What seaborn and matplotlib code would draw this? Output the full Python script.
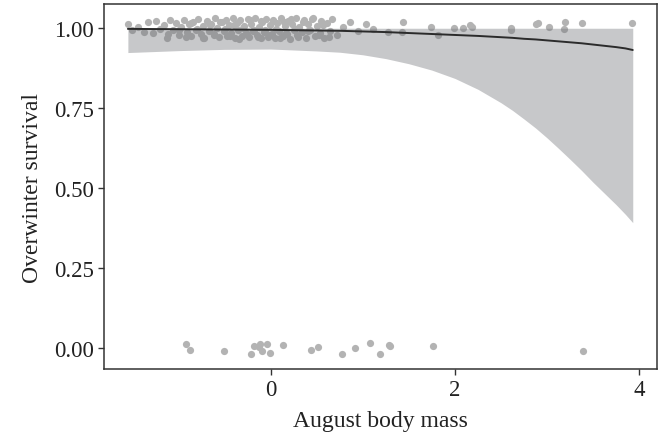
import numpy as np
import pandas as pd
import seaborn as sns
import matplotlib.pyplot as plt

# survivors (jittered around 1)
surv_x = [-1.55, -1.50, -1.44, -1.38, -1.33, -1.28, -1.24, -1.20, -1.16, -1.12, -1.09, -1.06,
          -1.03, -1.00, -0.97, -0.94, -0.91, -0.89, -0.86, -0.84, -0.81, -0.79, -0.76, -0.74,
          -0.72, -0.69, -0.67, -0.65, -0.62, -0.60, -0.58, -0.56, -0.53, -0.51, -0.49, -0.47,
          -0.45, -0.43, -0.41, -0.39, -0.37, -0.35, -0.33, -0.31, -0.29, -0.27, -0.25, -0.23,
          -0.21, -0.19, -0.17, -0.15, -0.13, -0.11, -0.09, -0.07, -0.05, -0.03, -0.01, 0.01,
          0.03, 0.05, 0.07, 0.09, 0.11, 0.13, 0.15, 0.17, 0.19, 0.21, 0.23, 0.25,
          0.27, 0.29, 0.31, 0.34, 0.36, 0.38, 0.41, 0.43, 0.45, 0.48, 0.50, 0.53,
          0.55, 0.58, 0.61, 0.64, 0.67, 0.72, 0.78, 0.86, 0.95, 1.03,
          -1.13, -1.00, -0.92, -0.87, -0.80, -0.73, -0.66, -0.61, -0.55, -0.50, -0.44, -0.40,
          -0.34, -0.30, -0.26, -0.22, -0.18, -0.14, -0.10, -0.06, -0.02, 0.02, 0.06, 0.10,
          0.14, 0.18, 0.22, 0.26, 0.30, 0.35, 0.40, 0.46, 0.52, 0.57, 0.63,
          1.11, 1.27, 1.44, 1.43, 1.74, 1.82, 1.99, 2.09, 2.16, 2.19, 2.61, 2.61,
          2.88, 2.90, 3.02, 3.18, 3.20, 3.38, 3.92]
surv_y = [1.012, 0.995, 1.003, 0.988, 1.018, 0.985, 1.022, 0.998, 1.010, 0.982, 1.025, 0.993,
          1.015, 0.978, 1.004, 1.027, 0.988, 1.012, 0.975, 1.020, 0.996, 1.030, 0.983, 1.008,
          0.971, 1.024, 0.992, 1.014, 0.980, 1.031, 1.001, 0.973, 1.018, 0.990, 1.027, 0.977,
          1.009, 0.986, 1.033, 0.969, 1.016, 0.995, 1.026, 0.975, 1.006, 0.984, 1.029, 0.972,
          1.013, 0.992, 1.032, 0.979, 1.004, 0.968, 1.021, 0.988, 1.030, 0.974, 1.011, 0.983,
          1.027, 0.970, 1.017, 0.991, 1.033, 0.976, 1.008, 0.985, 1.024, 0.967, 1.014, 0.994,
          1.031, 0.978, 1.003, 0.987, 1.025, 0.971, 1.012, 0.993, 1.029, 0.976, 1.007, 0.984,
          1.022, 0.970, 1.015, 0.990, 1.028, 0.979, 1.005, 1.020, 0.990, 1.013,
          0.970, 0.995, 0.972, 1.017, 0.999, 0.968, 1.011, 0.981, 1.021, 0.997, 0.976, 1.010,
          0.966, 1.002, 0.981, 1.027, 0.994, 0.972, 1.024, 0.996, 0.978, 1.022, 0.999, 0.969,
          1.019, 0.982, 1.028, 0.997, 0.974, 1.018, 0.990, 1.031, 0.978, 1.010, 0.973,
          0.997, 0.988, 1.018, 0.988, 1.005, 0.980, 1.002, 1.002, 1.009, 1.004, 1.001, 0.993,
          1.012, 1.015, 1.004, 0.997, 1.021, 1.017, 1.015]

# non-survivors (jittered around 0)
dead_x = [-0.92, -0.88, -0.51, -0.21, -0.18, -0.12, -0.13, -0.09, -0.04, -0.01, 0.13,
          0.44, 0.51, 0.77, 0.92, 1.08, 1.19, 1.28, 1.30, 1.76, 3.39]
dead_y = [0.012, -0.005, -0.008, -0.019, 0.005, 0.013, 0.002, -0.010, 0.013, -0.015, 0.009,
          -0.005, 0.002, -0.020, 0.001, 0.017, -0.020, 0.010, 0.005, 0.005, -0.008]

# fitted logistic curve and confidence band
fit_x = [-1.55, -1.0, -0.5, 0.0, 0.5, 0.75, 1.0, 1.25, 1.5, 1.75, 2.0, 2.25, 2.5, 2.625,
         2.75, 2.875, 3.0, 3.125, 3.25, 3.375, 3.5, 3.625, 3.75, 3.85, 3.93]
fit_y = [0.998, 0.997, 0.996, 0.995, 0.993, 0.992, 0.990, 0.988, 0.985, 0.982, 0.979,
         0.976, 0.972, 0.970, 0.967, 0.965, 0.962, 0.959, 0.956, 0.953, 0.949, 0.945,
         0.941, 0.937, 0.932]
fit_lo = [0.924, 0.930, 0.934, 0.935, 0.929, 0.925, 0.917, 0.905, 0.889, 0.869, 0.843,
          0.809, 0.767, 0.743, 0.716, 0.688, 0.657, 0.624, 0.590, 0.555, 0.518, 0.483,
          0.448, 0.418, 0.392]
fit_hi = [1.0] * len(fit_x)

points = pd.DataFrame({"mass": surv_x + dead_x, "survival": surv_y + dead_y})
fit = pd.DataFrame({"mass": fit_x, "survival": fit_y, "lo": fit_lo, "hi": fit_hi})

sns.set_style("white")
plt.rcParams["font.family"] = ["Liberation Serif", "DejaVu Serif"]

fig = plt.figure(figsize=(6.62, 4.39), dpi=100)
ax = fig.add_axes([0.157, 0.157, 0.835, 0.831])

sns.scatterplot(data=points, x="mass", y="survival", color="#b3b3b3", s=27,
                linewidth=0, ax=ax, zorder=1)
ax.fill_between(fit["mass"], fit["lo"], fit["hi"], color="#74767b", alpha=0.4,
                linewidth=0, zorder=2)
sns.lineplot(data=fit, x="mass", y="survival", color="#2b2b2b", linewidth=1.4,
             ax=ax, zorder=3)

ax.set_xlim(-1.81, 4.19)
ax.set_ylim(-0.066, 1.075)
ax.set_xticks([0, 2, 4])
ax.set_yticks([0, 0.25, 0.5, 0.75, 1.0])
ax.set_yticklabels(["0.00", "0.25", "0.50", "0.75", "1.00"])
ax.set_xlabel("August body mass", fontsize=17, color="#222222", labelpad=7)
ax.set_ylabel("Overwinter survival", fontsize=17, color="#222222", labelpad=8)
ax.tick_params(axis="both", labelsize=16.5, colors="#333333", length=4, width=1,
               labelcolor="#222222", left=True, bottom=True, pad=3)
for sp in ax.spines.values():
    sp.set_color("#333333")
    sp.set_linewidth(1.1)

fig.savefig("out.png", dpi=100)
